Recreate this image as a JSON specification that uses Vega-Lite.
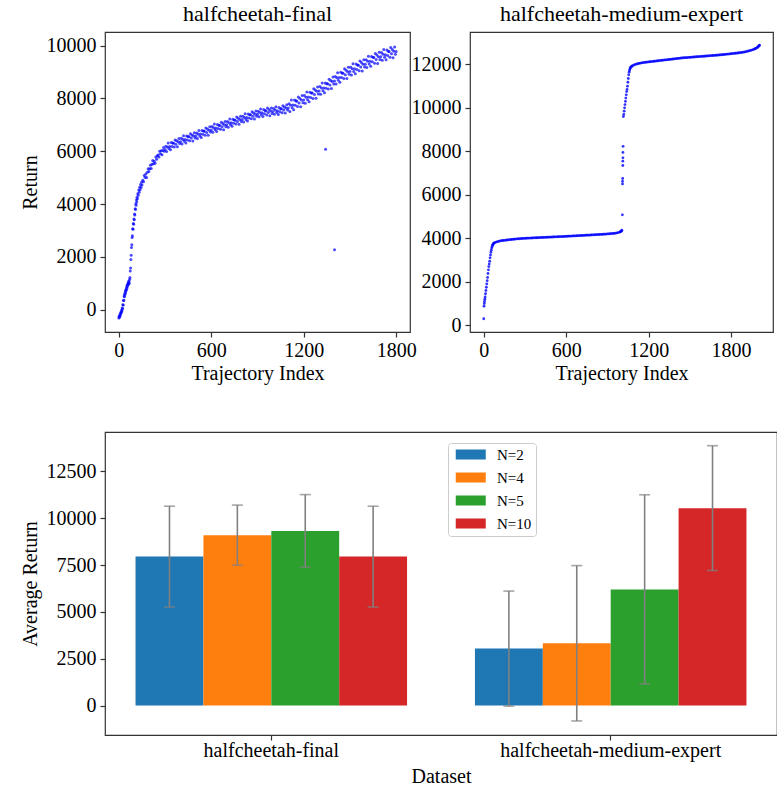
{
  "$schema": "https://vega.github.io/schema/vega-lite/v6.json",
  "padding": {"left": 19, "top": 2, "right": 0, "bottom": 0},
  "background": "white",
  "config": {
    "font": "Liberation Serif",
    "view": {"stroke": "#333333", "strokeWidth": 1.2},
    "axis": {"grid": false, "domain": false, "labelFontSize": 20, "titleFontSize": 20, "titleFontWeight": "normal", "labelColor": "#000000", "titleColor": "#000000", "tickColor": "#333333", "tickSize": 5, "tickWidth": 1.2, "labelPadding": 4, "titlePadding": 6, "labelFont": "Liberation Serif", "titleFont": "Liberation Serif", "labelLimit": 400},
    "axisX": {"labelPadding": 3, "titlePadding": 3},
    "title": {"fontSize": 22, "fontWeight": "normal", "offset": 6, "color": "#000000", "font": "Liberation Serif"}
  },
  "datasets": {
    "final": [
      {"i":0,"r":-320},{"i":2,"r":-250},{"i":4,"r":-290},{"i":6,"r":-210},{"i":8,"r":-240},{"i":10,"r":-150},{"i":12,"r":-170},{"i":14,"r":-90},{"i":16,"r":-110},{"i":18,"r":-20},{"i":20,"r":-50},{"i":22,"r":60},{"i":24,"r":30},{"i":26,"r":180},{"i":28,"r":170},{"i":30,"r":340},{"i":32,"r":350},{"i":34,"r":510},{"i":36,"r":490},{"i":38,"r":600},{"i":40,"r":570},{"i":42,"r":690},{"i":44,"r":650},{"i":46,"r":760},{"i":48,"r":730},{"i":50,"r":850},{"i":52,"r":800},{"i":54,"r":920},{"i":56,"r":880},{"i":58,"r":990},{"i":60,"r":950},{"i":62,"r":1050},{"i":64,"r":970},{"i":66,"r":1080},{"i":68,"r":1010},{"i":70,"r":1150},{"i":72,"r":1220},{"i":74,"r":1460},{"i":76,"r":1580},{"i":78,"r":1900},{"i":80,"r":2060},{"i":82,"r":2350},{"i":84,"r":2460},{"i":86,"r":2730},{"i":88,"r":2800},{"i":90,"r":3060},{"i":92,"r":3040},{"i":94,"r":3260},{"i":96,"r":3230},{"i":98,"r":3430},{"i":100,"r":3400},{"i":102,"r":3620},{"i":104,"r":3580},{"i":106,"r":3820},{"i":108,"r":3790},{"i":110,"r":4010},{"i":112,"r":3950},{"i":114,"r":4150},{"i":116,"r":4080},{"i":118,"r":4260},{"i":120,"r":4200},{"i":123,"r":4390},{"i":126,"r":4330},{"i":129,"r":4530},{"i":132,"r":4450},{"i":135,"r":4640},{"i":138,"r":4540},{"i":141,"r":4740},{"i":144,"r":4630},{"i":147,"r":4830},{"i":150,"r":4720},
      {"i":155,"r":4900},{"i":160,"r":4840},{"i":165,"r":5080},{"i":170,"r":5010},{"i":175,"r":5140},{"i":180,"r":5010},{"i":185,"r":5200},{"i":190,"r":5340},{"i":195,"r":5230},{"i":200,"r":5340},{"i":205,"r":5470},{"i":210,"r":5350},{"i":215,"r":5510},{"i":220,"r":5650},{"i":225,"r":5530},{"i":230,"r":5620},{"i":235,"r":5550},{"i":240,"r":5780},{"i":245,"r":5700},{"i":250,"r":5830},{"i":255,"r":5860},{"i":260,"r":5780},{"i":265,"r":6000},{"i":270,"r":5910},{"i":275,"r":6020},{"i":280,"r":5870},{"i":285,"r":6030},{"i":290,"r":6140},{"i":295,"r":6000},{"i":300,"r":6070},
      {"i":305,"r":6190},{"i":310,"r":5990},{"i":315,"r":6160},{"i":320,"r":6310},{"i":325,"r":6100},{"i":330,"r":6185},{"i":335,"r":6060},{"i":340,"r":6330},{"i":345,"r":6180},{"i":350,"r":6310},{"i":355,"r":6300},{"i":360,"r":6160},{"i":365,"r":6430},{"i":370,"r":6270},{"i":375,"r":6395},{"i":380,"r":6170},{"i":385,"r":6360},{"i":390,"r":6480},{"i":395,"r":6290},{"i":400,"r":6365},{"i":405,"r":6490},{"i":410,"r":6275},{"i":415,"r":6450},{"i":420,"r":6590},{"i":425,"r":6375},{"i":430,"r":6450},{"i":435,"r":6315},{"i":440,"r":6580},{"i":445,"r":6430},{"i":450,"r":6555},{"i":455,"r":6550},{"i":460,"r":6400},{"i":465,"r":6665},{"i":470,"r":6500},{"i":475,"r":6620},{"i":480,"r":6390},{"i":485,"r":6575},{"i":490,"r":6700},{"i":495,"r":6500},{"i":500,"r":6575},
      {"i":505,"r":6695},{"i":510,"r":6480},{"i":515,"r":6650},{"i":520,"r":6790},{"i":525,"r":6580},{"i":530,"r":6655},{"i":535,"r":6520},{"i":540,"r":6790},{"i":545,"r":6640},{"i":550,"r":6765},{"i":555,"r":6760},{"i":560,"r":6610},{"i":565,"r":6880},{"i":570,"r":6715},{"i":575,"r":6840},{"i":580,"r":6610},{"i":585,"r":6800},{"i":590,"r":6925},{"i":595,"r":6730},{"i":600,"r":6810},{"i":605,"r":6935},{"i":610,"r":6720},{"i":615,"r":6890},{"i":620,"r":7030},{"i":625,"r":6815},{"i":630,"r":6885},{"i":635,"r":6750},{"i":640,"r":7015},{"i":645,"r":6865},{"i":650,"r":6985},{"i":655,"r":6980},{"i":660,"r":6830},{"i":665,"r":7095},{"i":670,"r":6930},{"i":675,"r":7050},{"i":680,"r":6820},{"i":685,"r":7005},{"i":690,"r":7130},{"i":695,"r":6930},{"i":700,"r":7005},
      {"i":705,"r":7125},{"i":710,"r":6910},{"i":715,"r":7080},{"i":720,"r":7220},{"i":725,"r":7005},{"i":730,"r":7080},{"i":735,"r":6945},{"i":740,"r":7210},{"i":745,"r":7060},{"i":750,"r":7185},{"i":755,"r":7180},{"i":760,"r":7030},{"i":765,"r":7295},{"i":770,"r":7130},{"i":775,"r":7250},{"i":780,"r":7020},{"i":785,"r":7205},{"i":790,"r":7330},{"i":795,"r":7130},{"i":800,"r":7205},{"i":805,"r":7325},{"i":810,"r":7110},{"i":815,"r":7280},{"i":820,"r":7420},{"i":825,"r":7205},{"i":830,"r":7280},{"i":835,"r":7145},{"i":840,"r":7410},{"i":845,"r":7260},{"i":850,"r":7385},{"i":855,"r":7380},{"i":860,"r":7230},{"i":865,"r":7495},{"i":870,"r":7330},{"i":875,"r":7450},{"i":880,"r":7220},{"i":885,"r":7405},{"i":890,"r":7530},{"i":895,"r":7330},{"i":900,"r":7405},
      {"i":905,"r":7520},{"i":910,"r":7305},{"i":915,"r":7470},{"i":920,"r":7605},{"i":925,"r":7385},{"i":930,"r":7455},{"i":935,"r":7320},{"i":940,"r":7580},{"i":945,"r":7425},{"i":950,"r":7545},{"i":955,"r":7530},{"i":960,"r":7375},{"i":965,"r":7635},{"i":970,"r":7465},{"i":975,"r":7580},{"i":980,"r":7345},{"i":985,"r":7525},{"i":990,"r":7640},{"i":995,"r":7435},{"i":1000,"r":7505},{"i":1005,"r":7620},{"i":1010,"r":7400},{"i":1015,"r":7560},{"i":1020,"r":7690},{"i":1025,"r":7470},{"i":1030,"r":7540},{"i":1035,"r":7395},{"i":1040,"r":7655},{"i":1045,"r":7500},{"i":1050,"r":7615},{"i":1055,"r":7610},{"i":1060,"r":7460},{"i":1065,"r":7725},{"i":1070,"r":7560},{"i":1075,"r":7680},{"i":1080,"r":7450},{"i":1085,"r":7635},{"i":1090,"r":7760},{"i":1095,"r":7560},{"i":1100,"r":7635},
      {"i":1105,"r":7800},{"i":1110,"r":7510},{"i":1115,"r":7745},{"i":1120,"r":7940},{"i":1125,"r":7645},{"i":1130,"r":7750},{"i":1135,"r":7570},{"i":1140,"r":7940},{"i":1145,"r":7740},{"i":1150,"r":7910},{"i":1155,"r":7900},{"i":1160,"r":7695},{"i":1165,"r":8060},{"i":1170,"r":7830},{"i":1175,"r":8000},{"i":1180,"r":7685},{"i":1185,"r":7940},{"i":1190,"r":8110},{"i":1195,"r":7835},{"i":1200,"r":7940},{"i":1205,"r":8110},{"i":1210,"r":7815},{"i":1215,"r":8050},{"i":1220,"r":8245},{"i":1225,"r":7950},{"i":1230,"r":8055},{"i":1235,"r":7875},{"i":1240,"r":8240},{"i":1245,"r":8040},{"i":1250,"r":8210},{"i":1255,"r":8205},{"i":1260,"r":8000},{"i":1265,"r":8370},{"i":1270,"r":8150},{"i":1275,"r":8320},{"i":1280,"r":8010},{"i":1285,"r":8270},{"i":1290,"r":8440},{"i":1295,"r":8170},{"i":1300,"r":8280},
      {"i":1305,"r":8450},{"i":1310,"r":8160},{"i":1315,"r":8395},{"i":1320,"r":8590},{"i":1325,"r":8295},{"i":1330,"r":8400},{"i":1335,"r":8220},{"i":1340,"r":8590},{"i":1345,"r":8385},{"i":1350,"r":8560},{"i":1355,"r":8555},{"i":1360,"r":8360},{"i":1365,"r":8730},{"i":1370,"r":8510},{"i":1375,"r":8685},{"i":1380,"r":8375},{"i":1385,"r":8640},{"i":1390,"r":8815},{"i":1395,"r":8550},{"i":1400,"r":8660},{"i":1405,"r":8830},{"i":1410,"r":8545},{"i":1415,"r":8785},{"i":1420,"r":8980},{"i":1425,"r":8690},{"i":1430,"r":8800},{"i":1435,"r":8620},{"i":1440,"r":8995},{"i":1445,"r":8795},{"i":1450,"r":8970},{"i":1455,"r":8960},{"i":1460,"r":8760},{"i":1465,"r":9125},{"i":1470,"r":8900},{"i":1475,"r":9070},{"i":1480,"r":8755},{"i":1485,"r":9015},{"i":1490,"r":9185},{"i":1495,"r":8915},{"i":1500,"r":9020},
      {"i":1505,"r":9185},{"i":1510,"r":8890},{"i":1515,"r":9125},{"i":1520,"r":9315},{"i":1525,"r":9020},{"i":1530,"r":9125},{"i":1535,"r":8940},{"i":1540,"r":9305},{"i":1545,"r":9100},{"i":1550,"r":9270},{"i":1555,"r":9260},{"i":1560,"r":9055},{"i":1565,"r":9420},{"i":1570,"r":9190},{"i":1575,"r":9360},{"i":1580,"r":9045},{"i":1585,"r":9300},{"i":1590,"r":9470},{"i":1595,"r":9195},{"i":1600,"r":9300},{"i":1605,"r":9465},{"i":1610,"r":9175},{"i":1615,"r":9410},{"i":1620,"r":9600},{"i":1625,"r":9305},{"i":1630,"r":9410},{"i":1635,"r":9225},{"i":1640,"r":9595},{"i":1645,"r":9390},{"i":1650,"r":9560},{"i":1655,"r":9550},{"i":1660,"r":9340},{"i":1665,"r":9705},{"i":1670,"r":9480},{"i":1675,"r":9645},{"i":1680,"r":9330},{"i":1685,"r":9585},{"i":1690,"r":9750},{"i":1695,"r":9480},{"i":1700,"r":9580},
      {"i":1705,"r":9740},{"i":1710,"r":9445},{"i":1715,"r":9675},{"i":1720,"r":9860},{"i":1725,"r":9560},{"i":1730,"r":9660},{"i":1735,"r":9470},{"i":1740,"r":9835},{"i":1745,"r":9625},{"i":1750,"r":9790},{"i":1755,"r":9775},{"i":1760,"r":9565},{"i":1765,"r":9930},{"i":1770,"r":9695},{"i":1775,"r":9860},{"i":1780,"r":9540},{"i":1785,"r":9790},{"i":1790,"r":9955},{"i":1795,"r":9680},{"i":1800,"r":9780},
      {"i":1342,"r":6080},{"i":1400,"r":2270}
    ],
    "mexp": [
      {"i":0,"r":300},{"i":2,"r":880},{"i":4,"r":1000},{"i":6,"r":1100},{"i":8,"r":1200},{"i":10,"r":1300},{"i":13,"r":1450},{"i":16,"r":1600},{"i":19,"r":1750},{"i":22,"r":1900},{"i":25,"r":2050},{"i":28,"r":2200},{"i":31,"r":2380},{"i":34,"r":2550},{"i":37,"r":2700},{"i":40,"r":2820},{"i":43,"r":2950},{"i":46,"r":3100},{"i":49,"r":3230},{"i":52,"r":3350},{"i":55,"r":3450},{"i":58,"r":3550},{"i":61,"r":3620},{"i":64,"r":3680},{"i":67,"r":3720},{"i":70,"r":3750},{"i":75,"r":3780},{"i":80,"r":3800},{"i":90,"r":3825},{"i":100,"r":3845},{"i":110,"r":3862},{"i":120,"r":3878},{"i":130,"r":3890},{"i":140,"r":3900},{"i":150,"r":3908},{"i":160,"r":3916},{"i":170,"r":3923},{"i":180,"r":3930},{"i":190,"r":3937},{"i":200,"r":3944},{"i":210,"r":3951},{"i":220,"r":3958},{"i":230,"r":3964},{"i":240,"r":3970},{"i":250,"r":3976},{"i":260,"r":3981},{"i":270,"r":3986},{"i":280,"r":3991},{"i":290,"r":3996},{"i":300,"r":4000},
      {"i":310,"r":4003},{"i":320,"r":4006},{"i":330,"r":4009},{"i":340,"r":4012},{"i":350,"r":4015},{"i":360,"r":4018},{"i":370,"r":4021},{"i":380,"r":4024},{"i":390,"r":4027},{"i":400,"r":4030},{"i":410,"r":4033},{"i":420,"r":4036},{"i":430,"r":4039},{"i":440,"r":4042},{"i":450,"r":4045},{"i":460,"r":4048},{"i":470,"r":4051},{"i":480,"r":4054},{"i":490,"r":4057},{"i":500,"r":4060},{"i":510,"r":4063},{"i":520,"r":4066},{"i":530,"r":4069},{"i":540,"r":4072},{"i":550,"r":4075},{"i":560,"r":4078},{"i":570,"r":4081},{"i":580,"r":4084},{"i":590,"r":4087},{"i":600,"r":4090},
      {"i":610,"r":4094},{"i":620,"r":4097},{"i":630,"r":4101},{"i":640,"r":4104},{"i":650,"r":4108},{"i":660,"r":4111},{"i":670,"r":4115},{"i":680,"r":4118},{"i":690,"r":4122},{"i":700,"r":4125},{"i":710,"r":4129},{"i":720,"r":4132},{"i":730,"r":4136},{"i":740,"r":4139},{"i":750,"r":4143},{"i":760,"r":4146},{"i":770,"r":4150},{"i":780,"r":4153},{"i":790,"r":4157},{"i":800,"r":4160},{"i":810,"r":4164},{"i":820,"r":4167},{"i":830,"r":4171},{"i":840,"r":4174},{"i":850,"r":4178},{"i":860,"r":4181},{"i":870,"r":4186},{"i":880,"r":4190},{"i":890,"r":4195},{"i":900,"r":4200},{"i":910,"r":4205},{"i":920,"r":4210},{"i":930,"r":4216},{"i":940,"r":4222},{"i":950,"r":4230},{"i":960,"r":4238},{"i":970,"r":4250},{"i":980,"r":4265},{"i":990,"r":4285},{"i":995,"r":4300},{"i":1000,"r":4320},{"i":1003,"r":4345},{"i":1005,"r":4370},
      {"i":1009,"r":5080},{"i":1010,"r":6500},{"i":1010,"r":6620},{"i":1011,"r":6750},{"i":1012,"r":7350},{"i":1012,"r":7550},{"i":1013,"r":7700},{"i":1013,"r":7950},{"i":1014,"r":8230},
      {"i":1016,"r":9600},{"i":1019,"r":9700},{"i":1022,"r":9850},{"i":1025,"r":10000},{"i":1028,"r":10150},{"i":1031,"r":10300},{"i":1034,"r":10450},{"i":1037,"r":10600},{"i":1040,"r":10750},{"i":1043,"r":10850},{"i":1046,"r":11000},{"i":1049,"r":11180},{"i":1052,"r":11350},{"i":1055,"r":11520},{"i":1058,"r":11640},{"i":1061,"r":11720},{"i":1064,"r":11790},{"i":1067,"r":11840},{"i":1070,"r":11870},{"i":1075,"r":11900},{"i":1080,"r":11925},{"i":1090,"r":11960},{"i":1100,"r":11990},{"i":1110,"r":12010},{"i":1120,"r":12030},{"i":1130,"r":12045},{"i":1140,"r":12058},{"i":1150,"r":12070},{"i":1160,"r":12080},{"i":1170,"r":12090},{"i":1180,"r":12100},{"i":1190,"r":12108},
      {"i":1200,"r":12115},{"i":1210,"r":12122},{"i":1220,"r":12129},{"i":1230,"r":12136},{"i":1240,"r":12143},{"i":1250,"r":12150},{"i":1260,"r":12158},{"i":1270,"r":12166},{"i":1280,"r":12174},{"i":1290,"r":12182},{"i":1300,"r":12190},{"i":1310,"r":12197},{"i":1320,"r":12204},{"i":1330,"r":12211},{"i":1340,"r":12218},{"i":1350,"r":12225},{"i":1360,"r":12233},{"i":1370,"r":12241},{"i":1380,"r":12249},{"i":1390,"r":12257},{"i":1400,"r":12265},{"i":1410,"r":12272},{"i":1420,"r":12279},{"i":1430,"r":12286},{"i":1440,"r":12293},{"i":1450,"r":12300},{"i":1460,"r":12305},{"i":1470,"r":12310},{"i":1480,"r":12315},{"i":1490,"r":12320},{"i":1500,"r":12325},
      {"i":1510,"r":12330},{"i":1520,"r":12335},{"i":1530,"r":12340},{"i":1540,"r":12345},{"i":1550,"r":12350},{"i":1560,"r":12355},{"i":1570,"r":12360},{"i":1580,"r":12365},{"i":1590,"r":12370},{"i":1600,"r":12375},{"i":1610,"r":12380},{"i":1620,"r":12385},{"i":1630,"r":12390},{"i":1640,"r":12395},{"i":1650,"r":12400},{"i":1660,"r":12405},{"i":1670,"r":12410},{"i":1680,"r":12415},{"i":1690,"r":12420},{"i":1700,"r":12425},{"i":1710,"r":12431},{"i":1720,"r":12437},{"i":1730,"r":12443},{"i":1740,"r":12449},{"i":1750,"r":12455},{"i":1760,"r":12462},{"i":1770,"r":12469},{"i":1780,"r":12476},{"i":1790,"r":12483},{"i":1800,"r":12490},
      {"i":1810,"r":12497},{"i":1820,"r":12504},{"i":1830,"r":12511},{"i":1840,"r":12518},{"i":1850,"r":12525},{"i":1860,"r":12534},{"i":1870,"r":12542},{"i":1880,"r":12550},{"i":1890,"r":12562},{"i":1900,"r":12575},{"i":1910,"r":12590},{"i":1920,"r":12605},{"i":1930,"r":12622},{"i":1940,"r":12640},{"i":1950,"r":12660},{"i":1960,"r":12680},{"i":1968,"r":12700},{"i":1975,"r":12720},{"i":1982,"r":12745},{"i":1990,"r":12775},{"i":1995,"r":12800},{"i":2000,"r":12830},{"i":2004,"r":12860},{"i":2007,"r":12885}
    ],
    "bars": [
      {"dataset":"halfcheetah-final","N":"N=2","mean":7950,"lo":5260,"hi":10640},
      {"dataset":"halfcheetah-final","N":"N=4","mean":9090,"lo":7490,"hi":10700},
      {"dataset":"halfcheetah-final","N":"N=5","mean":9320,"lo":7390,"hi":11260},
      {"dataset":"halfcheetah-final","N":"N=10","mean":7950,"lo":5260,"hi":10640},
      {"dataset":"halfcheetah-medium-expert","N":"N=2","mean":3050,"lo":-30,"hi":6110},
      {"dataset":"halfcheetah-medium-expert","N":"N=4","mean":3320,"lo":-820,"hi":7470},
      {"dataset":"halfcheetah-medium-expert","N":"N=5","mean":6200,"lo":1160,"hi":11250},
      {"dataset":"halfcheetah-medium-expert","N":"N=10","mean":10530,"lo":7210,"hi":13870}
    ]
  },
  "spacing": 47,
  "vconcat": [
    {
      "bounds": "flush",
      "spacing": 60,
      "hconcat": [
        {
          "width": 305, "height": 300,
          "title": "halfcheetah-final",
          "data": {"name": "final"},
          "mark": {"type": "point", "filled": true, "size": 9, "color": "#0000ff", "opacity": 0.7, "strokeWidth": 0},
          "encoding": {
            "x": {"field": "i", "type": "quantitative", "scale": {"domain": [-90, 1890], "nice": false, "zero": false}, "axis": {"values": [0, 600, 1200, 1800], "format": "d", "title": "Trajectory Index"}},
            "y": {"field": "r", "type": "quantitative", "scale": {"domain": [-850, 10520], "nice": false, "zero": false}, "axis": {"values": [0, 2000, 4000, 6000, 8000, 10000], "format": "d", "title": "Return"}}
          }
        },
        {
          "width": 303, "height": 300,
          "title": "halfcheetah-medium-expert",
          "data": {"name": "mexp"},
          "mark": {"type": "point", "filled": true, "size": 8, "color": "#0000ff", "opacity": 0.8, "strokeWidth": 0},
          "encoding": {
            "x": {"field": "i", "type": "quantitative", "scale": {"domain": [-100, 2105], "nice": false, "zero": false}, "axis": {"values": [0, 600, 1200, 1800], "format": "d", "title": "Trajectory Index"}},
            "y": {"field": "r", "type": "quantitative", "scale": {"domain": [-310, 13490], "nice": false, "zero": false}, "axis": {"values": [0, 2000, 4000, 6000, 8000, 10000, 12000], "format": "d", "title": null}}
          }
        }
      ]
    },
    {
      "width": 672, "height": 303,
      "data": {"name": "bars"},
      "encoding": {
        "x": {"field": "dataset", "type": "nominal", "scale": {"paddingInner": 0.2, "paddingOuter": 0.09}, "axis": {"labelAngle": 0, "title": "Dataset", "labelPadding": 0, "titlePadding": 6}},
        "xOffset": {"field": "N", "type": "nominal", "scale": {"domain": ["N=2", "N=4", "N=5", "N=10"], "paddingInner": 0, "paddingOuter": 0}}
      },
      "layer": [
        {
          "mark": {"type": "bar"},
          "encoding": {
            "y": {"field": "mean", "type": "quantitative", "scale": {"domain": [-1570, 14600], "nice": false, "zero": false}, "axis": {"values": [0, 2500, 5000, 7500, 10000, 12500], "format": "d", "title": "Average Return"}},
            "y2": {"datum": 0},
            "color": {"field": "N", "type": "nominal", "scale": {"domain": ["N=2", "N=4", "N=5", "N=10"], "range": ["#1f77b4", "#ff7f0e", "#2ca02c", "#d62728"]},
              "legend": {"orient": "none", "legendX": 343, "legendY": 411, "title": null, "symbolType": "M-0.5,-0.667H3.5V0.667H-0.5Z", "symbolSize": 225, "symbolStrokeWidth": 0, "symbolOpacity": 1, "labelFontSize": 15, "labelFont": "Liberation Serif", "labelColor": "#000000", "labelOffset": 30, "rowPadding": 7, "padding": 4, "strokeColor": "#cccccc", "fillColor": "#ffffff", "cornerRadius": 3}}
          }
        },
        {
          "mark": {"type": "rule", "color": "#808080", "strokeWidth": 1.6},
          "encoding": {"y": {"field": "lo", "type": "quantitative"}, "y2": {"field": "hi"}}
        },
        {
          "mark": {"type": "tick", "color": "#808080", "thickness": 1.6, "size": 11},
          "encoding": {"y": {"field": "lo", "type": "quantitative"}}
        },
        {
          "mark": {"type": "tick", "color": "#808080", "thickness": 1.6, "size": 11},
          "encoding": {"y": {"field": "hi", "type": "quantitative"}}
        }
      ]
    }
  ]
}
